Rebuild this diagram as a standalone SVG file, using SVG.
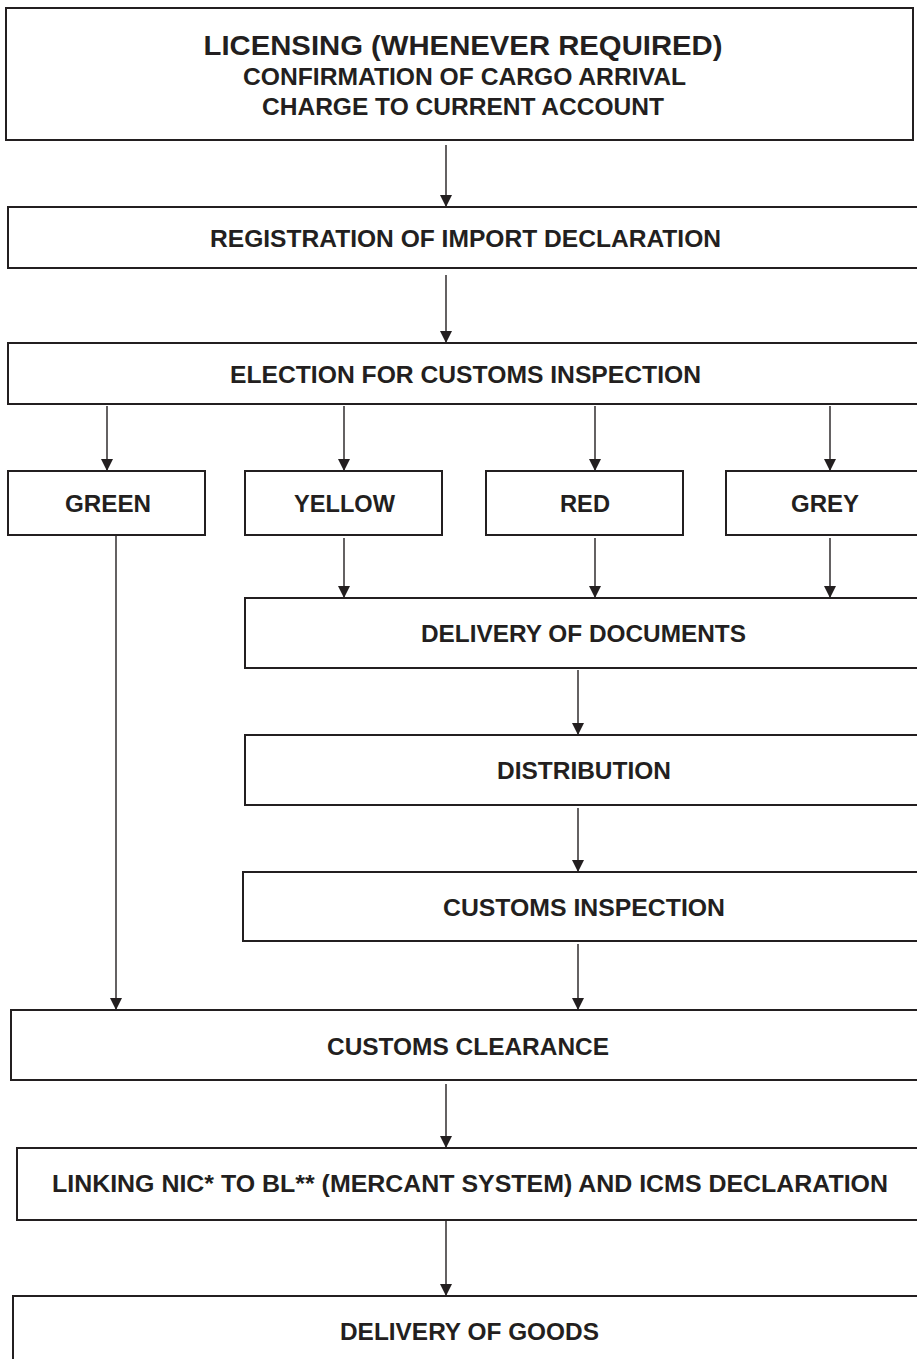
<svg xmlns="http://www.w3.org/2000/svg" width="917" height="1359" viewBox="0 0 917 1359">
<style>
.box{fill:#fff;stroke:#231f20;stroke-width:2}
.t{font-family:"Liberation Sans",Arial,sans-serif;font-weight:bold;font-size:23px;fill:#231f20;text-anchor:middle}
.big{font-size:28px}
.c{stroke:#231f20;stroke-width:1.4;fill:none}
</style>
<defs>
<marker id="ah" markerUnits="userSpaceOnUse" markerWidth="14" markerHeight="14" refX="12" refY="0" viewBox="0 -7 13 14" orient="auto">
<path d="M0,-6 L12,0 L0,6 z" fill="#231f20"/>
</marker>
</defs>
<rect width="917" height="1359" fill="#fff"/>
<g id="connectors">
<line class="c" x1="446" y1="145" x2="446" y2="207" marker-end="url(#ah)"/>
<line class="c" x1="446" y1="275" x2="446" y2="343" marker-end="url(#ah)"/>
<line class="c" x1="107" y1="406" x2="107" y2="471" marker-end="url(#ah)"/>
<line class="c" x1="344" y1="406" x2="344" y2="471" marker-end="url(#ah)"/>
<line class="c" x1="595" y1="406" x2="595" y2="471" marker-end="url(#ah)"/>
<line class="c" x1="830" y1="406" x2="830" y2="471" marker-end="url(#ah)"/>
<line class="c" x1="344" y1="538" x2="344" y2="598" marker-end="url(#ah)"/>
<line class="c" x1="595" y1="538" x2="595" y2="598" marker-end="url(#ah)"/>
<line class="c" x1="830" y1="538" x2="830" y2="598" marker-end="url(#ah)"/>
<line class="c" x1="578" y1="670" x2="578" y2="735" marker-end="url(#ah)"/>
<line class="c" x1="578" y1="808" x2="578" y2="872" marker-end="url(#ah)"/>
<line class="c" x1="578" y1="944" x2="578" y2="1010" marker-end="url(#ah)"/>
<line class="c" x1="116" y1="532" x2="116" y2="1010" marker-end="url(#ah)"/>
<line class="c" x1="446" y1="1084" x2="446" y2="1148" marker-end="url(#ah)"/>
<line class="c" x1="446" y1="1213" x2="446" y2="1296" marker-end="url(#ah)"/>
</g>
<g id="licensing">
<rect class="box" x="6" y="8" width="907" height="132"/>
<text class="t big" x="463" y="55" textLength="519" lengthAdjust="spacingAndGlyphs">LICENSING (WHENEVER REQUIRED)</text>
<text class="t" x="464.5" y="84.5" textLength="443" lengthAdjust="spacingAndGlyphs">CONFIRMATION OF CARGO ARRIVAL</text>
<text class="t" x="463" y="114.5" textLength="402" lengthAdjust="spacingAndGlyphs">CHARGE TO CURRENT ACCOUNT</text>
</g>
<g id="registration">
<rect class="box" x="8" y="207" width="930" height="61"/>
<text class="t" x="465.5" y="246.5" textLength="511" lengthAdjust="spacingAndGlyphs">REGISTRATION OF IMPORT DECLARATION</text>
</g>
<g id="election">
<rect class="box" x="8" y="343" width="930" height="61"/>
<text class="t" x="465.5" y="382.5" textLength="471" lengthAdjust="spacingAndGlyphs">ELECTION FOR CUSTOMS INSPECTION</text>
</g>
<g id="green">
<rect class="box" x="8" y="471" width="197" height="64"/>
<text class="t" x="108" y="511.5" textLength="86" lengthAdjust="spacingAndGlyphs">GREEN</text>
</g>
<g id="yellow">
<rect class="box" x="245" y="471" width="197" height="64"/>
<text class="t" x="344.5" y="511.5" textLength="101" lengthAdjust="spacingAndGlyphs">YELLOW</text>
</g>
<g id="red">
<rect class="box" x="486" y="471" width="197" height="64"/>
<text class="t" x="585" y="511.5" textLength="50" lengthAdjust="spacingAndGlyphs">RED</text>
</g>
<g id="grey">
<rect class="box" x="726" y="471" width="210" height="64"/>
<text class="t" x="825" y="511.5" textLength="68" lengthAdjust="spacingAndGlyphs">GREY</text>
</g>
<g id="delivery-docs">
<rect class="box" x="245" y="598" width="690" height="70"/>
<text class="t" x="583.5" y="641.5" textLength="325" lengthAdjust="spacingAndGlyphs">DELIVERY OF DOCUMENTS</text>
</g>
<g id="distribution">
<rect class="box" x="245" y="735" width="690" height="70"/>
<text class="t" x="584" y="778.5" textLength="174" lengthAdjust="spacingAndGlyphs">DISTRIBUTION</text>
</g>
<g id="customs-inspection">
<rect class="box" x="243" y="872" width="692" height="69"/>
<text class="t" x="584" y="915.5" textLength="282" lengthAdjust="spacingAndGlyphs">CUSTOMS INSPECTION</text>
</g>
<g id="customs-clearance">
<rect class="box" x="11" y="1010" width="925" height="70"/>
<text class="t" x="468" y="1054.5" textLength="282" lengthAdjust="spacingAndGlyphs">CUSTOMS CLEARANCE</text>
</g>
<g id="linking">
<rect class="box" x="17" y="1148" width="920" height="72"/>
<text class="t" x="470" y="1191.5" textLength="836" lengthAdjust="spacingAndGlyphs">LINKING NIC* TO BL** (MERCANT SYSTEM) AND ICMS DECLARATION</text>
</g>
<g id="delivery-goods">
<rect class="box" x="13" y="1296" width="925" height="90"/>
<text class="t" x="469.5" y="1339.5" textLength="259" lengthAdjust="spacingAndGlyphs">DELIVERY OF GOODS</text>
</g>
</svg>
